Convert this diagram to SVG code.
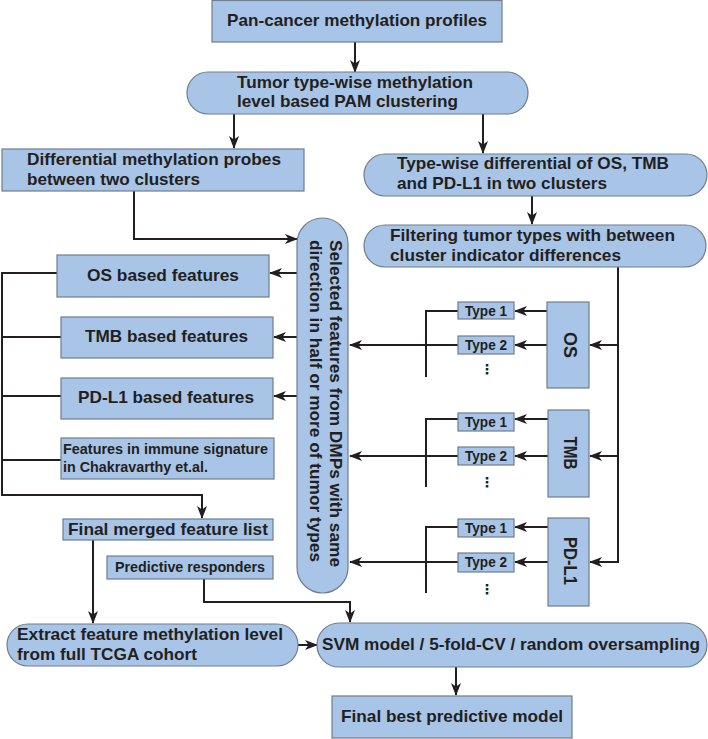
<svg xmlns="http://www.w3.org/2000/svg" width="708" height="739" viewBox="0 0 708 739">
<defs>
<style>
.box{fill:#a8c4e7;stroke:#6f7d8c;stroke-width:1.2}
.t{font-family:"Liberation Sans",Arial,sans-serif;font-weight:bold;fill:#231f20;font-size:17px}
.s{font-size:14px}
.d{font-family:"DejaVu Sans",sans-serif;font-weight:bold;font-size:14px;fill:#231f20}
.c{fill:none;stroke:#231f20;stroke-width:2}
.a{marker-end:url(#ah)}
</style>
<marker id="ah" markerUnits="userSpaceOnUse" markerWidth="13" markerHeight="11" viewBox="0 0 13 11" refX="12" refY="5.5" orient="auto">
<path d="M0,0.5 L13,5.5 L0,10.5 L3.5,5.5 Z" fill="#231f20"/>
</marker>
</defs>
<rect width="708" height="739" fill="#ffffff"/>

<g id="connectors">
<path class="c a" d="M355,42 V72"/>
<path class="c a" d="M234,114 V148"/>
<path class="c a" d="M483,114 V153"/>
<path class="c a" d="M532,196 V224"/>
<path class="c a" d="M134,191 V239 H297"/>
<path class="c a" d="M618,267 V562 H590"/>
<path class="c a" d="M618,345 H590"/>
<path class="c a" d="M618,456 H590"/>
<path class="c a" d="M547,311 H515"/>
<path class="c a" d="M547,345 H515"/>
<path class="c a" d="M548,419 H515"/>
<path class="c a" d="M548,456 H515"/>
<path class="c a" d="M548,527 H515"/>
<path class="c a" d="M548,562 H515"/>
<path class="c" d="M458,311 H426 V377"/>
<path class="c" d="M458,419 H426 V487"/>
<path class="c" d="M458,527 H426 V593"/>
<path class="c a" d="M458,345 H350"/>
<path class="c a" d="M458,456 H350"/>
<path class="c a" d="M458,562 H350"/>
<path class="c a" d="M297,273 H270"/>
<path class="c a" d="M297,337 H274"/>
<path class="c a" d="M297,396 H274"/>
<path class="c a" d="M57,273 H2 V495 H202 V518"/>
<path class="c" d="M61,337 H2"/>
<path class="c" d="M61,396 H2"/>
<path class="c" d="M61,460 H2"/>
<path class="c a" d="M93,540 V623"/>
<path class="c a" d="M204,579 V602 H350 V622"/>
<path class="c a" d="M298,645 H317"/>
<path class="c a" d="M456,667 V695"/>
</g>

<g id="pan-cancer">
<rect class="box" x="212" y="0.5" width="290" height="41.5"/>
<text class="t" x="227" y="26" textLength="260" lengthAdjust="spacingAndGlyphs">Pan-cancer methylation profiles</text>
</g>

<g id="pam-clustering">
<rect class="box" x="187" y="72" width="341" height="42" rx="21"/>
<text class="t" x="237" y="88" textLength="236" lengthAdjust="spacingAndGlyphs">Tumor type-wise methylation</text>
<text class="t" x="237" y="107" textLength="221" lengthAdjust="spacingAndGlyphs">level based PAM clustering</text>
</g>

<g id="dmp">
<rect class="box" x="2" y="149" width="302" height="42"/>
<text class="t" x="27" y="165" textLength="254" lengthAdjust="spacingAndGlyphs">Differential methylation probes</text>
<text class="t" x="27" y="185" textLength="173" lengthAdjust="spacingAndGlyphs">between two clusters</text>
</g>

<g id="typewise-diff">
<rect class="box" x="364" y="154" width="343" height="42" rx="21"/>
<text class="t" x="397" y="169" textLength="272" lengthAdjust="spacingAndGlyphs">Type-wise differential of OS, TMB</text>
<text class="t" x="397" y="189" textLength="210" lengthAdjust="spacingAndGlyphs">and PD-L1 in two clusters</text>
</g>

<g id="filtering">
<rect class="box" x="364" y="225" width="342" height="42" rx="21"/>
<text class="t" x="390" y="241" textLength="285" lengthAdjust="spacingAndGlyphs">Filtering tumor types with between</text>
<text class="t" x="390" y="261" textLength="231" lengthAdjust="spacingAndGlyphs">cluster indicator differences</text>
</g>

<g id="selected-features">
<rect class="box" x="297" y="218" width="51" height="375" rx="25.5"/>
<text class="t" transform="translate(330,240) rotate(90)" textLength="327" lengthAdjust="spacingAndGlyphs">Selected features from DMPs with same</text>
<text class="t" transform="translate(310,240) rotate(90)" textLength="322" lengthAdjust="spacingAndGlyphs">direction in half or more of tumor types</text>
</g>

<g id="os-features">
<rect class="box" x="57" y="255" width="212" height="42"/>
<text class="t" x="163" y="281" text-anchor="middle" textLength="152" lengthAdjust="spacingAndGlyphs">OS based features</text>
</g>
<g id="tmb-features">
<rect class="box" x="61" y="317" width="212" height="41"/>
<text class="t" x="166.5" y="342" text-anchor="middle" textLength="163" lengthAdjust="spacingAndGlyphs">TMB based features</text>
</g>
<g id="pdl1-features">
<rect class="box" x="61" y="378" width="212" height="41"/>
<text class="t" x="166" y="403" text-anchor="middle" textLength="176" lengthAdjust="spacingAndGlyphs">PD-L1 based features</text>
</g>
<g id="immune-features">
<rect class="box" x="61" y="438" width="213" height="41"/>
<text class="t s" x="63" y="454" textLength="205" lengthAdjust="spacingAndGlyphs">Features in immune signature</text>
<text class="t s" x="63" y="472" textLength="145" lengthAdjust="spacingAndGlyphs">in Chakravarthy et.al.</text>
</g>

<g id="final-merged">
<rect class="box" x="63" y="519" width="210" height="21"/>
<text class="t" x="68" y="535" textLength="200" lengthAdjust="spacingAndGlyphs">Final merged feature list</text>
</g>
<g id="predictive-responders">
<rect class="box" x="107" y="556" width="166" height="23"/>
<text class="t s" x="190" y="572" text-anchor="middle" textLength="150" lengthAdjust="spacingAndGlyphs">Predictive responders</text>
</g>

<g id="os">
<rect class="box" x="547" y="302" width="42" height="86"/>
<text class="t" style="font-size:18px" transform="translate(564,345) rotate(90)" text-anchor="middle">OS</text>
</g>
<g id="os-type1">
<rect class="box" x="458" y="302" width="56" height="17"/>
<text class="t s" x="486" y="315.5" text-anchor="middle" textLength="42" lengthAdjust="spacingAndGlyphs">Type 1</text>
</g>
<g id="os-type2">
<rect class="box" x="458" y="336" width="56" height="18"/>
<text class="t s" x="486" y="350" text-anchor="middle" textLength="42" lengthAdjust="spacingAndGlyphs">Type 2</text>
<text class="d" x="487" y="374" text-anchor="middle">⋮</text>
</g>

<g id="tmb">
<rect class="box" x="548" y="410" width="41" height="87"/>
<text class="t" style="font-size:18px" transform="translate(564,453) rotate(90)" text-anchor="middle" textLength="33" lengthAdjust="spacingAndGlyphs">TMB</text>
</g>
<g id="tmb-type1">
<rect class="box" x="458" y="413" width="56" height="18"/>
<text class="t s" x="486" y="427" text-anchor="middle" textLength="42" lengthAdjust="spacingAndGlyphs">Type 1</text>
</g>
<g id="tmb-type2">
<rect class="box" x="458" y="447" width="56" height="18"/>
<text class="t s" x="486" y="461" text-anchor="middle" textLength="42" lengthAdjust="spacingAndGlyphs">Type 2</text>
<text class="d" x="487" y="487" text-anchor="middle">⋮</text>
</g>

<g id="pdl1">
<rect class="box" x="548" y="518" width="41" height="88"/>
<text class="t" style="font-size:18px" transform="translate(564,561) rotate(90)" text-anchor="middle" textLength="48" lengthAdjust="spacingAndGlyphs">PD-L1</text>
</g>
<g id="pdl1-type1">
<rect class="box" x="458" y="519" width="56" height="18"/>
<text class="t s" x="486" y="533" text-anchor="middle" textLength="42" lengthAdjust="spacingAndGlyphs">Type 1</text>
</g>
<g id="pdl1-type2">
<rect class="box" x="458" y="553" width="56" height="19"/>
<text class="t s" x="486" y="567" text-anchor="middle" textLength="42" lengthAdjust="spacingAndGlyphs">Type 2</text>
<text class="d" x="487" y="594" text-anchor="middle">⋮</text>
</g>

<g id="extract">
<rect class="box" x="7" y="624" width="291" height="42" rx="21"/>
<text class="t" x="17" y="640" textLength="266" lengthAdjust="spacingAndGlyphs">Extract feature methylation level</text>
<text class="t" x="17" y="660" textLength="180" lengthAdjust="spacingAndGlyphs">from full TCGA cohort</text>
</g>

<g id="svm">
<rect class="box" x="317" y="623" width="390" height="44" rx="22"/>
<text class="t" x="322" y="650" textLength="378" lengthAdjust="spacingAndGlyphs">SVM model / 5-fold-CV / random oversampling</text>
</g>

<g id="final-best">
<rect class="box" x="332" y="696" width="240" height="42"/>
<text class="t" x="452" y="722" text-anchor="middle" textLength="222" lengthAdjust="spacingAndGlyphs">Final best predictive model</text>
</g>
</svg>
